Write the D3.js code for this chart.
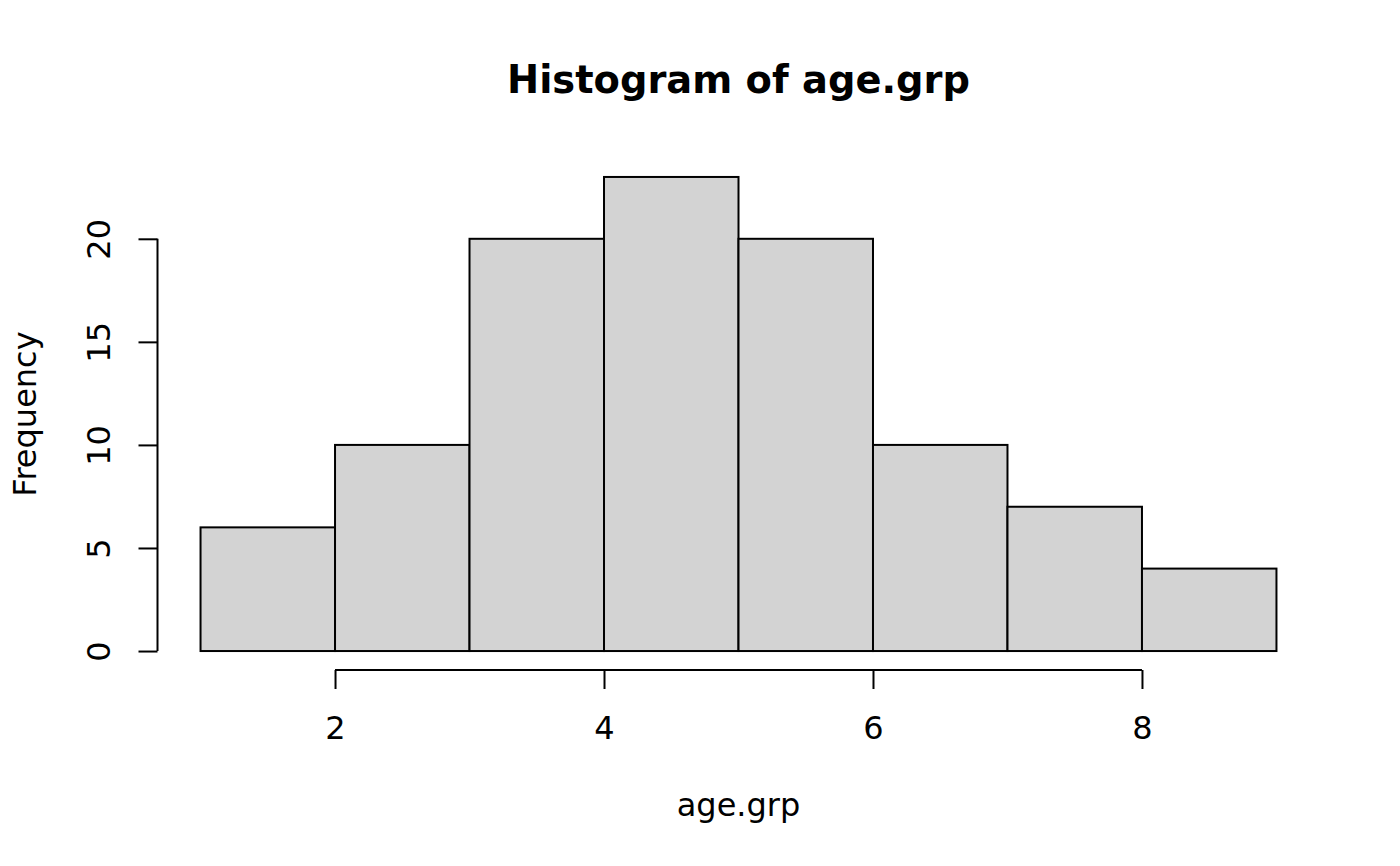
<!DOCTYPE html>
<html>
<head>
<meta charset="utf-8">
<script src="https://cdn.jsdelivr.net/npm/d3@7"></script>
<style>
  body { margin: 0; background: #fff; }
  svg text { font-family: "DejaVu Sans", sans-serif; fill: #000; }
</style>
</head>
<body>
<div id="chart"></div>
<script>
// histogram of age.grp, bins of width 1
const binStarts = [1, 2, 3, 4, 5, 6, 7, 8];
const counts = [6, 10, 20, 23, 20, 10, 7, 4];
const xTicks = [2, 4, 6, 8];
const yTicks = [0, 5, 10, 15, 20];

const width = 1400;
const height = 866;

const svg = d3.select('#chart').append('svg')
    .attr('width', width)
    .attr('height', height);

// R pads the data range by 4% on each side
const x = d3.scaleLinear().domain([0.68, 9.32]).range([157.5, 1319.5]);
const y = d3.scaleLinear().domain([-0.92, 23.92]).range([670, 158]);

const bins = binStarts.map((b, i) => ({x0: b, x1: b + 1, n: counts[i]}));

svg.append('g').selectAll('rect')
    .data(bins)
    .join('rect')
    .attr('x', d => x(d.x0))
    .attr('y', d => y(d.n))
    .attr('width', d => x(d.x1) - x(d.x0))
    .attr('height', d => y(0) - y(d.n))
    .attr('fill', '#d3d3d3')
    .attr('stroke', '#000')
    .attr('stroke-width', 2);

// x axis, drawn below the plot region
const xAxis = svg.append('g')
    .attr('transform', `translate(0,${y(-0.92)})`)
    .call(d3.axisBottom(x).tickValues(xTicks).tickSize(19).tickSizeOuter(0).tickPadding(0));
xAxis.select('.domain').remove();
xAxis.append('line')
    .attr('x1', x(xTicks[0])).attr('x2', x(xTicks[xTicks.length - 1]))
    .attr('stroke', '#000').attr('stroke-width', 2);
xAxis.selectAll('.tick line').attr('stroke-width', 2);
xAxis.selectAll('.tick text')
    .attr('y', 69)
    .attr('dy', null)
    .style('font-size', '32px')
    .style('font-family', '"DejaVu Sans", sans-serif');

// y axis with rotated labels
const yAxis = svg.append('g')
    .attr('transform', `translate(${x(0.68)},0)`)
    .call(d3.axisLeft(y).tickValues(yTicks).tickSize(19).tickSizeOuter(0));
yAxis.select('.domain').remove();
yAxis.append('line')
    .attr('y1', y(yTicks[0])).attr('y2', y(yTicks[yTicks.length - 1]))
    .attr('stroke', '#000').attr('stroke-width', 2);
yAxis.selectAll('.tick line').attr('stroke-width', 2);
yAxis.selectAll('.tick text')
    .attr('x', null)
    .attr('dy', null)
    .attr('text-anchor', 'middle')
    .attr('transform', 'translate(-47.5,0) rotate(-90)')
    .style('font-size', '32px')
    .style('font-family', '"DejaVu Sans", sans-serif');

const midX = (x.range()[0] + x.range()[1]) / 2;
const midY = (y.range()[0] + y.range()[1]) / 2;

svg.append('text')
    .attr('x', midX)
    .attr('y', 93)
    .attr('text-anchor', 'middle')
    .style('font-size', '38.4px')
    .style('font-weight', 'bold')
    .text('Histogram of age.grp');

svg.append('text')
    .attr('x', midX)
    .attr('y', 816)
    .attr('text-anchor', 'middle')
    .style('font-size', '32px')
    .text('age.grp');

svg.append('text')
    .attr('transform', `translate(35.5,${midY}) rotate(-90)`)
    .attr('text-anchor', 'middle')
    .style('font-size', '32px')
    .text('Frequency');
</script>
</body>
</html>
